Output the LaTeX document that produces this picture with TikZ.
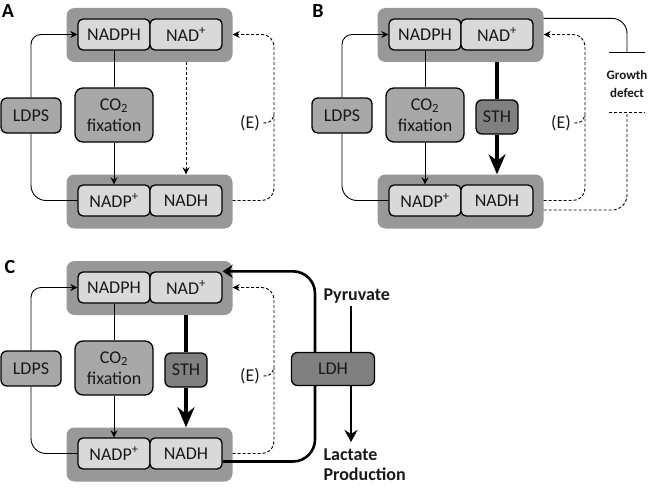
\documentclass[tikz,border=0pt]{standalone}
\usepackage{fontspec}
\setmainfont{Carlito}
\usetikzlibrary{arrows.meta}
\usetikzlibrary{positioning}
\definecolor{poolgray}{RGB}{152,152,152}
\definecolor{cofgray}{RGB}{217,217,217}
\definecolor{enzgray}{RGB}{168,168,168}
\definecolor{sthgray}{RGB}{128,128,128}
\tikzset{
  pool/.style={fill=poolgray, rounded corners=8pt, minimum width=166pt, minimum height=54pt, inner sep=0pt},
  cofactor/.style={draw, line width=1.3pt, fill=cofgray, rounded corners=5pt, minimum width=72pt, minimum height=31pt, inner sep=0pt, text=black!90},
  enzyme/.style={draw, line width=1.3pt, fill=enzgray, rounded corners=6pt, inner sep=0pt, text=black!90},
  flux/.style={line width=0.9pt, -{Stealth[length=7pt,width=7pt]}},
  dashline/.style={line width=0.9pt, dash pattern=on 3pt off 2pt},
  sthline/.style={line width=4pt},
  lactline/.style={line width=2.6pt},
  panel/.style={font=\bfseries\fontsize{20}{24}\selectfont, inner sep=0pt},
  boldlabel/.style={font=\bfseries\fontsize{18}{20.5}\selectfont, text=black!90, align=left}
}
% the part every panel shares: pools, LDPS, CO2 fixation and (E)
\newcommand{\cofactorcore}[1]{%
  \node[pool] (#1-top) at (149.5,35) {};
  \node[cofactor] (#1-nadph) at (114,34.5) {NADPH};
  \node[cofactor] (#1-nad) at (186,34.5) {NAD\textsuperscript{+}};
  \node[pool] (#1-bot) at (149.5,201.5) {};
  \node[cofactor] (#1-nadpp) at (114,200.5) {NADP\textsuperscript{+}};
  \node[cofactor] (#1-nadh) at (186,200.5) {NADH};
  \node[enzyme, minimum width=60pt, minimum height=35pt] (#1-ldps) at (31,115.5) {LDPS};
  \node[enzyme, minimum width=78pt, minimum height=54pt, rounded corners=8pt, align=center] (#1-fix) at (114,115) {CO\textsubscript{2}\\fixation};
  \coordinate (#1-eloop) at (274,115);
  \node[text=black!90] (#1-elabel) at (250,123) {(E)};
  \draw[flux, rounded corners=10pt] (#1-ldps.north) |- (#1-nadph.west);
  \draw[line width=0.9pt, rounded corners=15pt] (#1-ldps.south) |- (#1-nadpp.west);
  \draw[line width=0.9pt] (#1-nadph) -- (#1-fix);
  \draw[flux] (#1-fix) -- (#1-nadpp);
  \draw[dashline, rounded corners=12pt] (#1-bot.east |- #1-nadh.east) -| (#1-eloop);
  \draw[dashline, flux, rounded corners=12pt] (#1-eloop) |- (#1-top.east |- #1-nad.east);
  \draw[dashline] (#1-elabel.east) .. controls +(8,0) and +(-2,5) .. (#1-eloop);
}

\begin{document}
\begin{tikzpicture}[x=1pt, y=-1pt, font=\fontsize{18}{21.5}\selectfont]
  \useasboundingbox (0,0) rectangle (650,487);

  \node[panel] (lbl-a) at (8,11) {A};
  \node[panel] (lbl-b) at (318,11) {B};
  \node[panel] (lbl-c) at (10,267) {C};

  % A
  \cofactorcore{a}
  \draw[dashline, flux] (a-nad.south |- a-top.south) -- (a-nadh.north |- a-bot.north);

  % B: STH and growth defect
  \begin{scope}[shift={(311,0)}]
    \cofactorcore{b}
    \node[enzyme, fill=sthgray, minimum width=42pt, minimum height=34pt] (b-sth) at (186,117) {STH};
    \draw[sthline] (b-sth.north |- b-top.south) -- (b-sth);
    \draw[sthline, -{Stealth[length=20pt,width=17pt]}] (b-sth) -- (b-sth.south |- b-bot.north);
    \coordinate (b-gdtop) at (316,53);
    \coordinate (b-gdbot) at (316,112);
    \node[font=\bfseries\fontsize{13}{18}\selectfont, text=black!90, align=center] (b-gd) at (316,84) {Growth\\defect};
    \draw[line width=0.9pt, rounded corners=15pt, -{Bar[width=36pt]}] (b-top.east |- b-nad.north) -| (b-gdtop);
    \draw[dashline] ([xshift=-18pt]b-gdbot) -- ([xshift=18pt]b-gdbot);
    \draw[dashline, rounded corners=15pt] ([yshift=-8.5pt]b-bot.east) -| (b-gdbot);
  \end{scope}

  % C: STH and LDH
  \begin{scope}[shift={(0,253)}]
    \cofactorcore{c}
    \node[enzyme, fill=sthgray, minimum width=42pt, minimum height=34pt] (c-sth) at (186,117) {STH};
    \draw[sthline] (c-sth.north |- c-top.south) -- (c-sth);
    \draw[sthline, -{Stealth[length=20pt,width=17pt]}] (c-sth) -- (c-sth.south |- c-bot.north);
    \coordinate (c-loop) at (315,116);
    \coordinate (c-flux) at (351,116);
    \draw[lactline, rounded corners=22pt] ([yshift=-8pt]c-nadh.east) -| (c-loop);
    \draw[lactline, rounded corners=22pt, -{Stealth[length=10pt,width=13pt]}] (c-loop) |- (c-nad.north east);
    \node[boldlabel, anchor=base west] (c-pyr) at (320,47) {Pyruvate};
    \node[boldlabel, anchor=north west] (c-lac) at (320,192) {Lactate\\Production};
    \draw[lactline] (c-flux |- c-pyr.south) -- (c-flux);
    \draw[lactline, -{Stealth[length=12pt,width=13pt]}, shorten >=3pt] (c-flux) -- (c-flux |- c-lac.north);
    \node[enzyme, fill=sthgray, minimum width=83pt, minimum height=33pt] (c-ldh) at (333,116) {LDH};
  \end{scope}
\end{tikzpicture}
\end{document}
